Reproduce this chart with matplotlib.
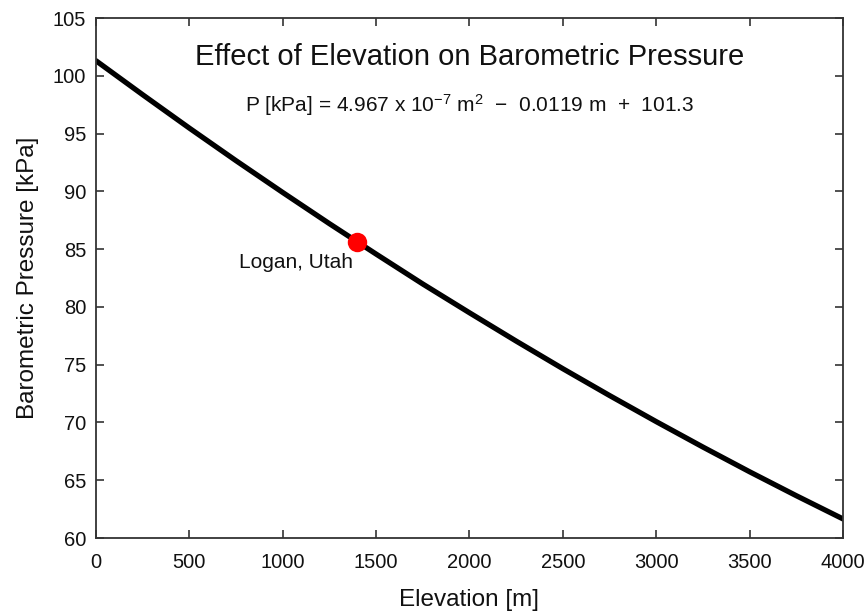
import matplotlib
matplotlib.use("Agg")
import matplotlib.pyplot as plt

plt.rcParams['font.family'] = ['Liberation Sans', 'DejaVu Sans']
plt.rcParams['mathtext.fontset'] = 'custom'
plt.rcParams['mathtext.rm'] = 'Liberation Sans'
plt.rcParams['mathtext.it'] = 'Liberation Sans'

# Data
elevation_m = [0, 250, 500, 750, 1000, 1250, 1500, 1750, 2000, 2250, 2500,
               2750, 3000, 3250, 3500, 3750, 4000]
pressure_kpa = [101.3, 98.36, 95.47, 92.65, 89.90, 87.20, 84.57, 81.98, 79.49,
                77.04, 74.65, 72.33, 70.07, 67.87, 65.73, 63.66, 61.65]
site_name = ["Logan, Utah"]
site_elev = [1400]
site_press = [85.6]
x_ticks = [0, 500, 1000, 1500, 2000, 2500, 3000, 3500, 4000]
y_ticks = [60, 65, 70, 75, 80, 85, 90, 95, 100, 105]

fig = plt.figure(figsize=(8.68, 6.13), dpi=100)
ax = fig.add_axes([96/868, 1-538/613, (843-96)/868, (538-18)/613])

ax.plot(elevation_m, pressure_kpa, color='black', lw=3.8, solid_capstyle='round', zorder=2)
ax.plot(site_elev, site_press, 'o', color='#ff0000', ms=14, zorder=3, mec='none')
ax.text(site_elev[0] - 24, site_press[0] - 1.8, site_name[0], ha='right', va='center',
        fontsize=15, color='#111111')

ax.set_xlim(0, 4000)
ax.set_ylim(60, 105)
ax.set_xticks(x_ticks)
ax.set_yticks(y_ticks)
ax.tick_params(direction='in', top=True, right=True, length=6, width=1.2, labelsize=14.5,
               colors='#333333', labelcolor='#111111')
ax.tick_params(axis='x', pad=11)
ax.tick_params(axis='y', pad=7)
for s in ax.spines.values():
    s.set_linewidth(1.3)
    s.set_color('#333333')

ax.set_xlabel('Elevation [m]', fontsize=17.5, labelpad=12, color='#111111')
ax.set_ylabel('Barometric Pressure [kPa]', fontsize=17.5, labelpad=10, color='#111111')

ax.text(0.5, 0.925, 'Effect of Elevation on Barometric Pressure', transform=ax.transAxes,
        ha='center', va='center', fontsize=21, color='#111111')
ax.text(0.5, 0.832, r'P [kPa] = 4.967 x 10$^{-7}$ m$^{2}$  $-$  0.0119 m  +  101.3',
        transform=ax.transAxes, ha='center', va='center', fontsize=15, color='#111111')

fig.savefig('out.png', dpi=100)
